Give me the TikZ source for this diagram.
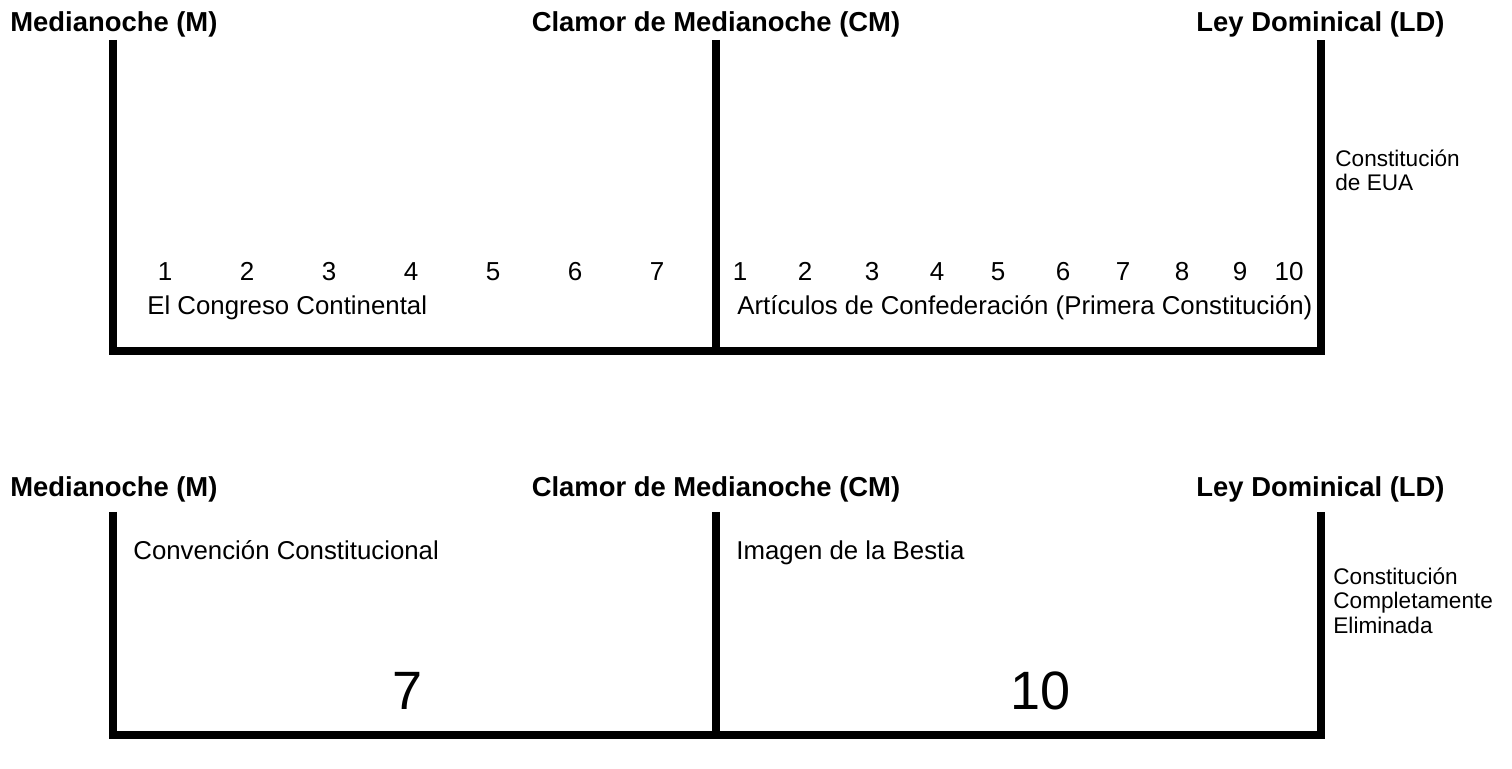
\documentclass[tikz,border=0pt]{standalone}
\usepackage{fontspec}
\setmainfont{Liberation Sans}
\usetikzlibrary{positioning}

\begin{document}
\begin{tikzpicture}[x=0.5pt,y=-0.5pt,
  bar/.style={line width=4pt,line join=miter},
  head/.style={font=\fontsize{13.7}{16}\selectfont\bfseries,inner sep=0pt},
  txt/.style={font=\fontsize{12.9}{16}\selectfont,anchor=base west,inner sep=0pt},
  num/.style={font=\fontsize{13}{16}\selectfont,anchor=base,inner sep=0pt},
  side/.style={font=\fontsize{11.3}{12.3}\selectfont,align=left,anchor=north west,inner sep=0pt},
  big/.style={font=\fontsize{27}{30}\selectfont,anchor=base,inner sep=0pt}]
\useasboundingbox (0,0) rectangle (1512,769);

% upper timeline
\node[head,anchor=base west] (m1) at (10,32) {Medianoche (M)};
\node[head,anchor=base] (cm1) at (716,32) {Clamor de Medianoche (CM)};
\node[head,anchor=base east] (ld1) at (1445,32) {Ley Dominical (LD)};
\draw[bar] (113,40) -- (113,351) -- (1321,351) -- (1321,40);
\draw[bar] (716,40) -- (716,351);
\foreach \x [count=\i] in {165,247,329,411,493,575,657}
  \node[num] (a\i) at (\x,281) {\i};
\foreach \x/\n [count=\i] in {740/1,805/2,872/3,937/4,998/5,1063/6,1123/7,1182/8,1240/9,1289/10}
  \node[num] (b\i) at (\x,281) {\n};
\node[txt] (congreso) at (147,315) {El Congreso Continental};
\node[txt] (articulos) at (737,315) {Artículos de Confederación (Primera Constitución)};
\node[side] (eua) at (1335,149) {Constitución\\de EUA};

% lower timeline
\node[head,anchor=base west] (m2) at (10,497) {Medianoche (M)};
\node[head,anchor=base] (cm2) at (716,497) {Clamor de Medianoche (CM)};
\node[head,anchor=base east] (ld2) at (1445,497) {Ley Dominical (LD)};
\draw[bar] (113,512) -- (113,735) -- (1321,735) -- (1321,512);
\draw[bar] (716,512) -- (716,735);
\node[txt] (convencion) at (133,560) {Convención Constitucional};
\node[txt] (imagen) at (736,560) {Imagen de la Bestia};
\node[big] (siete) at (408,710) {7};
\node[big] (diez) at (1041,710) {10};
\node[side] (eliminada) at (1333,567) {Constitución\\Completamente\\Eliminada};
\end{tikzpicture}
\end{document}
